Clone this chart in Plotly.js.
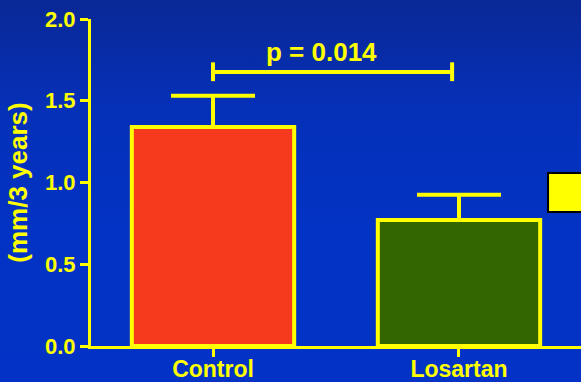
<!DOCTYPE html>
<html>
<head>
<meta charset="utf-8">
<script src="https://cdn.plot.ly/plotly-3.0.1.min.js"></script>
<style>
  html, body { margin: 0; padding: 0; }
  body { width: 581px; height: 382px; overflow: hidden;
         background: linear-gradient(to bottom, #0a2896 0%, #0530b8 28%, #0333c4 60%, #0333c6 100%); }
  #chart { width: 581px; height: 382px; }
</style>
</head>
<body>
<div id="chart"></div>
<script>
const categories = ["Control", "Losartan"];
const values = [1.34, 0.77];
const errors = [0.19, 0.155];
const barColors = ["#f53a1e", "#336600"];
const yTickVals = [0.0, 0.5, 1.0, 1.5, 2.0];
const yTickText = ["0.0", "0.5", "1.0", "1.5", "2.0"];
const pValueText = "p = 0.014";
const yTitle = "(mm/3 years)";

const yellow = "#ffff00";
const fontFam = "Arial, 'Liberation Sans', sans-serif";

const trace = {
  type: "bar",
  x: categories,
  y: values,
  width: 0.66,
  marker: { color: barColors, line: { color: yellow, width: 4 } },
  error_y: {
    type: "data", array: errors, arrayminus: [0, 0], symmetric: false,
    color: yellow, thickness: 4, width: 42, visible: true
  },
  hoverinfo: "none"
};

const layout = {
  width: 581, height: 382,
  margin: { l: 91, r: 0, t: 19, b: 36, pad: 0 },
  paper_bgcolor: "rgba(0,0,0,0)",
  plot_bgcolor: "rgba(0,0,0,0)",
  showlegend: false,
  font: { family: fontFam, color: yellow, weight: "bold" },
  xaxis: {
    type: "category",
    range: [-0.496, 1.496],
    showline: true, linecolor: yellow, linewidth: 3,
    ticks: "outside", ticklen: 8, tickwidth: 3, tickcolor: yellow,
    ticklabelstandoff: -8,
    tickfont: { size: 23, color: yellow, family: fontFam, weight: "bold" },
    showgrid: false, zeroline: false, fixedrange: true
  },
  yaxis: {
    range: [0, 2],
    tickvals: yTickVals, ticktext: yTickText,
    showline: true, linecolor: yellow, linewidth: 3,
    ticks: "outside", ticklen: 8, tickwidth: 3, tickcolor: yellow,
    tickfont: { size: 22, color: yellow, family: fontFam, weight: "bold" },
    showgrid: false, zeroline: false, fixedrange: true,
    title: { text: yTitle, standoff: 10, font: { size: 26, color: yellow, family: fontFam, weight: "bold" } }
  },
  shapes: [
    { type: "line", xref: "x", yref: "y", x0: 0, x1: 0.972, y0: 1.676, y1: 1.676, line: { color: yellow, width: 4 } },
    { type: "line", xref: "x", yref: "y", x0: 0, x1: 0, y0: 1.62, y1: 1.735, line: { color: yellow, width: 4 } },
    { type: "line", xref: "x", yref: "y", x0: 0.972, x1: 0.972, y0: 1.62, y1: 1.735, line: { color: yellow, width: 4 } },
    { type: "rect", xref: "x", yref: "y", x0: 1.362, x1: 1.62, y0: 0.82, y1: 1.058,
      fillcolor: yellow, line: { color: "#000000", width: 2 } }
  ],
  annotations: [
    { text: pValueText, xref: "x", yref: "y", x: 0.443, y: 1.80, showarrow: false,
      xanchor: "center", yanchor: "middle",
      font: { size: 26, color: yellow, family: fontFam, weight: "bold" } }
  ]
};

Plotly.newPlot("chart", [trace], layout, { displayModeBar: false, staticPlot: true });
</script>
</body>
</html>
